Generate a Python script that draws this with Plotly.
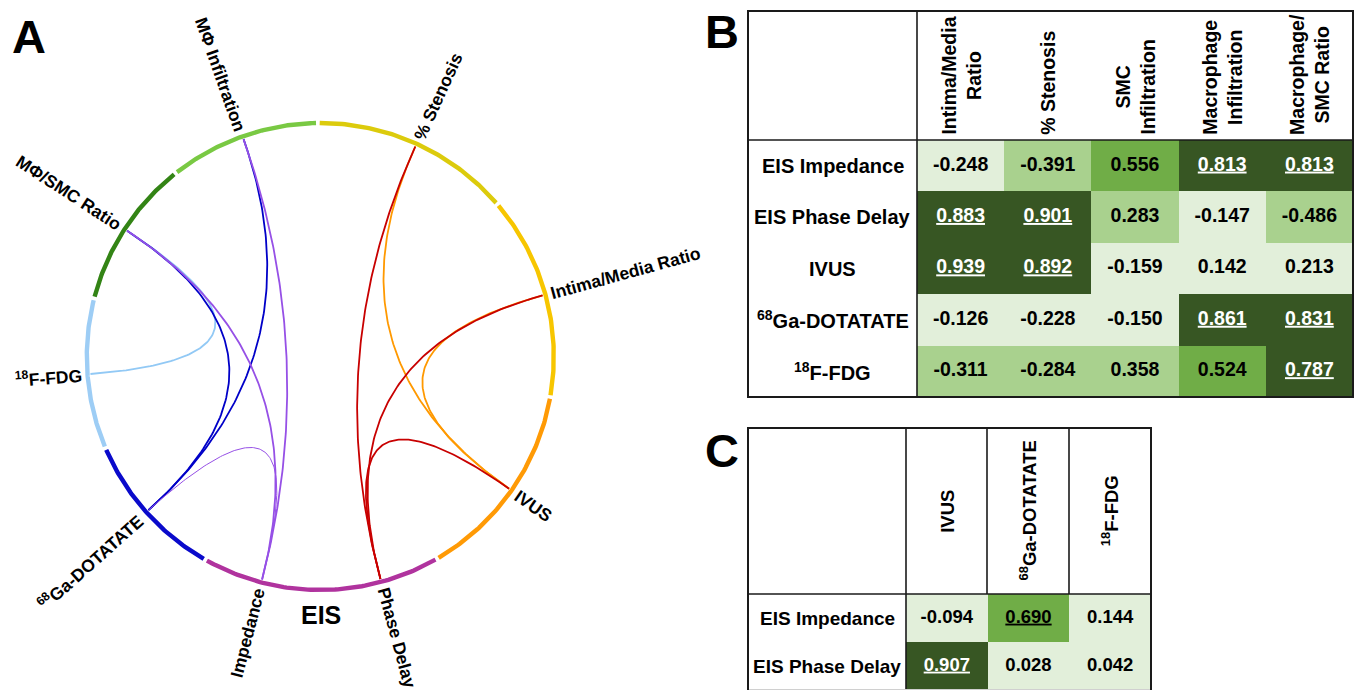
import numpy as np
import plotly.graph_objects as go

# ---------------- data ----------------
# Table B: rows = imaging measures, columns = histology measures
b_rows = ["EIS Impedance", "EIS Phase Delay", "IVUS", "<sup>68</sup>Ga-DOTATATE", "<sup>18</sup>F-FDG"]
b_cols = ["Intima/Media<br>Ratio", "% Stenosis", "SMC<br>Infiltration", "Macrophage<br>Infiltration", "Macrophage/<br>SMC Ratio"]
b_impedance = [-0.248, -0.391, 0.556, 0.813, 0.813]
b_phase_delay = [0.883, 0.901, 0.283, -0.147, -0.486]
b_ivus = [0.939, 0.892, -0.159, 0.142, 0.213]
b_ga_dotatate = [-0.126, -0.228, -0.150, 0.861, 0.831]
b_fdg = [-0.311, -0.284, 0.358, 0.524, 0.787]
# significant (underlined) flags
b_sig_impedance = [0, 0, 0, 1, 1]
b_sig_phase_delay = [1, 1, 0, 0, 0]
b_sig_ivus = [1, 1, 0, 0, 0]
b_sig_ga_dotatate = [0, 0, 0, 1, 1]
b_sig_fdg = [0, 0, 0, 0, 1]

# Table C: EIS vs other imaging
c_rows = ["EIS Impedance", "EIS Phase Delay"]
c_cols = ["IVUS", "<sup>68</sup>Ga-DOTATATE", "<sup>18</sup>F-FDG"]
c_impedance = [-0.094, 0.690, 0.144]
c_phase_delay = [0.907, 0.028, 0.042]
c_sig_impedance = [0, 1, 0]
c_sig_phase_delay = [1, 0, 0]

# Chord diagram nodes (clockwise from top) and their sector grouping
sector_nodes = [["% Stenosis"], ["Intima/Media Ratio"], ["IVUS"], ["Phase Delay", "Impedance"],
                ["<sup>68</sup>Ga-DOTATATE"], ["<sup>18</sup>F-FDG"], ["MΦ/SMC Ratio"], ["MΦ Infiltration"]]
b_row_nodes = ["Impedance", "Phase Delay", "IVUS", "<sup>68</sup>Ga-DOTATATE", "<sup>18</sup>F-FDG"]
b_col_nodes = ["Intima/Media Ratio", "% Stenosis", None, "MΦ Infiltration", "MΦ/SMC Ratio"]
c_row_nodes = ["Impedance", "Phase Delay"]
c_col_nodes = ["IVUS", "<sup>68</sup>Ga-DOTATATE", "<sup>18</sup>F-FDG"]

# ---------------- styling / layout ----------------
W, H = 1355, 690
FONT = "Liberation Sans, Arial, Helvetica, sans-serif"
sector_colors = ["#DCCB0C", "#F7C600", "#FF9A05", "#B0339E", "#0A0ACB", "#9DCDF5", "#338415", "#79C943"]
sector_edges = [90.6, 40.7, -10.0, -60.0, -119.5, -156.9, -194.4, -231.7, -269.4]
row_chord_colors = {"Impedance": "#9650E6", "Phase Delay": "#C80000", "IVUS": "#FF9900",
                    "<sup>68</sup>Ga-DOTATATE": "#0000C8", "<sup>18</sup>F-FDG": "#92C9F5"}
chord_draw_order = ["<sup>18</sup>F-FDG", "<sup>68</sup>Ga-DOTATATE", "IVUS", "Impedance", "Phase Delay"]
CX, CY, R = 320.3, 356.5, 233.5
GAP = 0.45
green_scale = [[0, "#E2EFDA"], [0.25, "#E2EFDA"], [0.25, "#A9D18E"], [0.5, "#A9D18E"],
               [0.5, "#70AD47"], [0.75, "#70AD47"], [0.75, "#375623"], [1, "#375623"]]

fig = go.Figure()

# ---- ring sectors ----
node_angle = {}
for nodes, color, a0, a1 in zip(sector_nodes, sector_colors, sector_edges[:-1], sector_edges[1:]):
    n = len(nodes)
    for k, nd in enumerate(nodes):
        node_angle[nd] = a0 + (a1 - a0) * (k + 0.5) / n
    th = np.radians(np.linspace(a0 - GAP, a1 + GAP, 80))
    fig.add_trace(go.Scatter(x=CX + R * np.cos(th), y=CY - R * np.sin(th), mode="lines",
                             line=dict(color=color, width=4.4), hoverinfo="skip", showlegend=False))

# ---- chords from significant correlations ----
b_vals = [b_impedance, b_phase_delay, b_ivus, b_ga_dotatate, b_fdg]
b_sig = [b_sig_impedance, b_sig_phase_delay, b_sig_ivus, b_sig_ga_dotatate, b_sig_fdg]
c_vals = [c_impedance, c_phase_delay]
c_sig = [c_sig_impedance, c_sig_phase_delay]

links = []
for i, rn in enumerate(b_row_nodes):
    for j, cn in enumerate(b_col_nodes):
        if cn and b_sig[i][j]:
            links.append((rn, cn, b_vals[i][j]))
for i, rn in enumerate(c_row_nodes):
    for j, cn in enumerate(c_col_nodes):
        if c_sig[i][j]:
            links.append((rn, cn, c_vals[i][j]))
links.sort(key=lambda l: chord_draw_order.index(l[0]))

for n_from, n_to, r_val in links:
    a, b = np.radians(node_angle[n_from]), np.radians(node_angle[n_to])
    rr = R - 3
    x0, y0 = CX + rr * np.cos(a), CY - rr * np.sin(a)
    x2, y2 = CX + rr * np.cos(b), CY - rr * np.sin(b)
    t = np.linspace(0, 1, 120)
    xs = (1 - t) ** 2 * x0 + 2 * t * (1 - t) * CX + t ** 2 * x2
    ys = (1 - t) ** 2 * y0 + 2 * t * (1 - t) * CY + t ** 2 * y2
    lw = 1.0 if abs(r_val) < 0.75 else 1.8
    fig.add_trace(go.Scatter(x=xs, y=ys, mode="lines", line=dict(color=row_chord_colors[n_from], width=lw),
                             hoverinfo="skip", showlegend=False))

# ---- node labels ----
CW = {' ': 278, '%': 889, '/': 278, '-': 333, '.': 278, 'A': 722, 'C': 722, 'D': 722, 'E': 667, 'F': 611,
      'G': 778, 'I': 278, 'M': 833, 'O': 778, 'P': 667, 'R': 722, 'S': 667, 'T': 611, 'U': 722, 'V': 667,
      'a': 556, 'c': 556, 'd': 611, 'e': 556, 'f': 333, 'h': 611, 'i': 278, 'l': 278, 'm': 889, 'n': 611,
      'o': 611, 'p': 611, 'r': 389, 's': 556, 't': 333, 'y': 556, 'Φ': 800}

def text_width(s, size):
    w = 0.0
    sup = False
    i = 0
    while i < len(s):
        if s.startswith("<sup>", i):
            sup = True; i += 5; continue
        if s.startswith("</sup>", i):
            sup = False; i += 6; continue
        c = s[i]
        w += CW.get(c, 556) / 1000.0 * (0.7 if sup else 1.0)
        i += 1
    return w * size

LBL = 17.5
annotations = []
for nd, ang in node_angle.items():
    a = ((ang + 180) % 360) - 180
    right = -90 < a < 90
    tw = text_width(nd, LBL)
    rc = R + 6 + tw / 2
    th = np.radians(a)
    x, y = CX + rc * np.cos(th), CY - rc * np.sin(th)
    tang = -a if right else -(((a + 180 + 180) % 360) - 180)
    annotations.append(dict(x=x, y=y, xref="x", yref="y", text=nd, showarrow=False, textangle=tang,
                            xanchor="center", yanchor="middle",
                            font=dict(family=FONT, size=LBL, color="black", weight="bold")))

annotations.append(dict(x=321, y=615, xref="x", yref="y", text="EIS", showarrow=False,
                        font=dict(family=FONT, size=25, color="black", weight="bold")))
for letter, lx, ly in [("A", 28.5, 36), ("B", 722, 31), ("C", 722, 450)]:
    annotations.append(dict(x=lx, y=ly, xref="x", yref="y", text=letter, showarrow=False,
                            font=dict(family=FONT, size=47, color="black", weight="bold")))

# ---------------- tables ----------------
def add_table(vals, sig, xa, ya, num_size):
    nr, nc = len(vals), len(vals[0])
    z = [[abs(v) for v in row] for row in vals]
    fig.add_trace(go.Heatmap(z=z, x=list(range(nc)), y=list(range(nr)), colorscale=green_scale,
                             zmin=0, zmax=1, showscale=False, hoverinfo="skip", xaxis=xa, yaxis=ya))
    xs, ys, txt, cols = [], [], [], []
    for i in range(nr):
        for j in range(nc):
            v = vals[i][j]
            s = f"{v:.3f}"
            xs.append(j); ys.append(i)
            txt.append(f"<u>{s}</u>" if sig[i][j] else s)
            cols.append("#FFFFFF" if abs(v) >= 0.75 else "#000000")
    fig.add_trace(go.Scatter(x=xs, y=ys, mode="text", text=txt, xaxis=xa, yaxis=ya,
                             textfont=dict(family=FONT, size=num_size, color=cols, weight="bold"),
                             hoverinfo="skip", showlegend=False))

add_table(b_vals, b_sig, "x2", "y2", 19.5)
add_table(c_vals, c_sig, "x3", "y3", 18.5)

# table B labels
for i, rl in enumerate(b_rows):
    annotations.append(dict(x=832.5, y=i, xref="x", yref="y2", text=rl, showarrow=False,
                            font=dict(family=FONT, size=20, color="black", weight="bold")))
for j, cl in enumerate(b_cols):
    annotations.append(dict(x=j, y=137, xref="x2", yref="y", text=cl, showarrow=False, textangle=-90,
                            xanchor="center", yanchor="bottom", align="center",
                            font=dict(family=FONT, size=19.5, color="black", weight="bold")))
# table C labels
for i, rl in enumerate(c_rows):
    annotations.append(dict(x=827, y=i, xref="x", yref="y3", text=rl, showarrow=False,
                            font=dict(family=FONT, size=19, color="black", weight="bold")))
for j, cl in enumerate(c_cols):
    annotations.append(dict(x=j, y=511, xref="x3", yref="y", text=cl, showarrow=False, textangle=-90,
                            xanchor="center", yanchor="middle", align="center",
                            font=dict(family=FONT, size=18.5, color="black", weight="bold")))

# borders
def line(x0, y0, x1, y1, w=1.6, color="#1a1a1a"):
    return dict(type="line", xref="x", yref="y", x0=x0, y0=y0, x1=x1, y1=y1,
                line=dict(color=color, width=w), layer="above")

shapes = [
    dict(type="rect", xref="x", yref="y", x0=748, y0=11, x1=1353, y1=397,
         line=dict(color="#1a1a1a", width=2), layer="above"),
    line(917, 11, 917, 397), line(748, 140, 1353, 140),
    dict(type="rect", xref="x", yref="y", x0=748, y0=428, x1=1151, y1=694,
         line=dict(color="#1a1a1a", width=2), layer="above"),
    line(906, 428, 906, 694), line(987, 428, 987, 594), line(1069, 428, 1069, 594),
    line(748, 594, 1151, 594),
    line(749, 689.5, 1150, 689.5, w=1, color="#d0d0d0"),
]

hidden = dict(visible=False, showgrid=False, zeroline=False, fixedrange=True)
fig.update_layout(
    width=W, height=H, autosize=False, margin=dict(l=0, r=0, t=0, b=0),
    paper_bgcolor="white", plot_bgcolor="rgba(0,0,0,0)", hovermode=False,
    font=dict(family=FONT),
    xaxis=dict(domain=[0, 1], range=[0, W], **hidden),
    yaxis=dict(domain=[0, 1], range=[H, 0], **hidden),
    xaxis2=dict(domain=[917 / W, 1353 / W], range=[-0.5, 4.5], anchor="y2", **hidden),
    yaxis2=dict(domain=[1 - 397 / H, 1 - 140 / H], range=[4.5, -0.5], anchor="x2", **hidden),
    xaxis3=dict(domain=[906 / W, 1151 / W], range=[-0.5, 2.5], anchor="y3", **hidden),
    yaxis3=dict(domain=[0, 1 - 594 / H], range=[1.5, -0.5], anchor="x3", **hidden),
    annotations=annotations, shapes=shapes, showlegend=False,
)

fig.write_html("out.html", config={"displayModeBar": False, "staticPlot": True},
               post_script="document.body.style.margin='0';document.body.style.overflow='hidden';")
